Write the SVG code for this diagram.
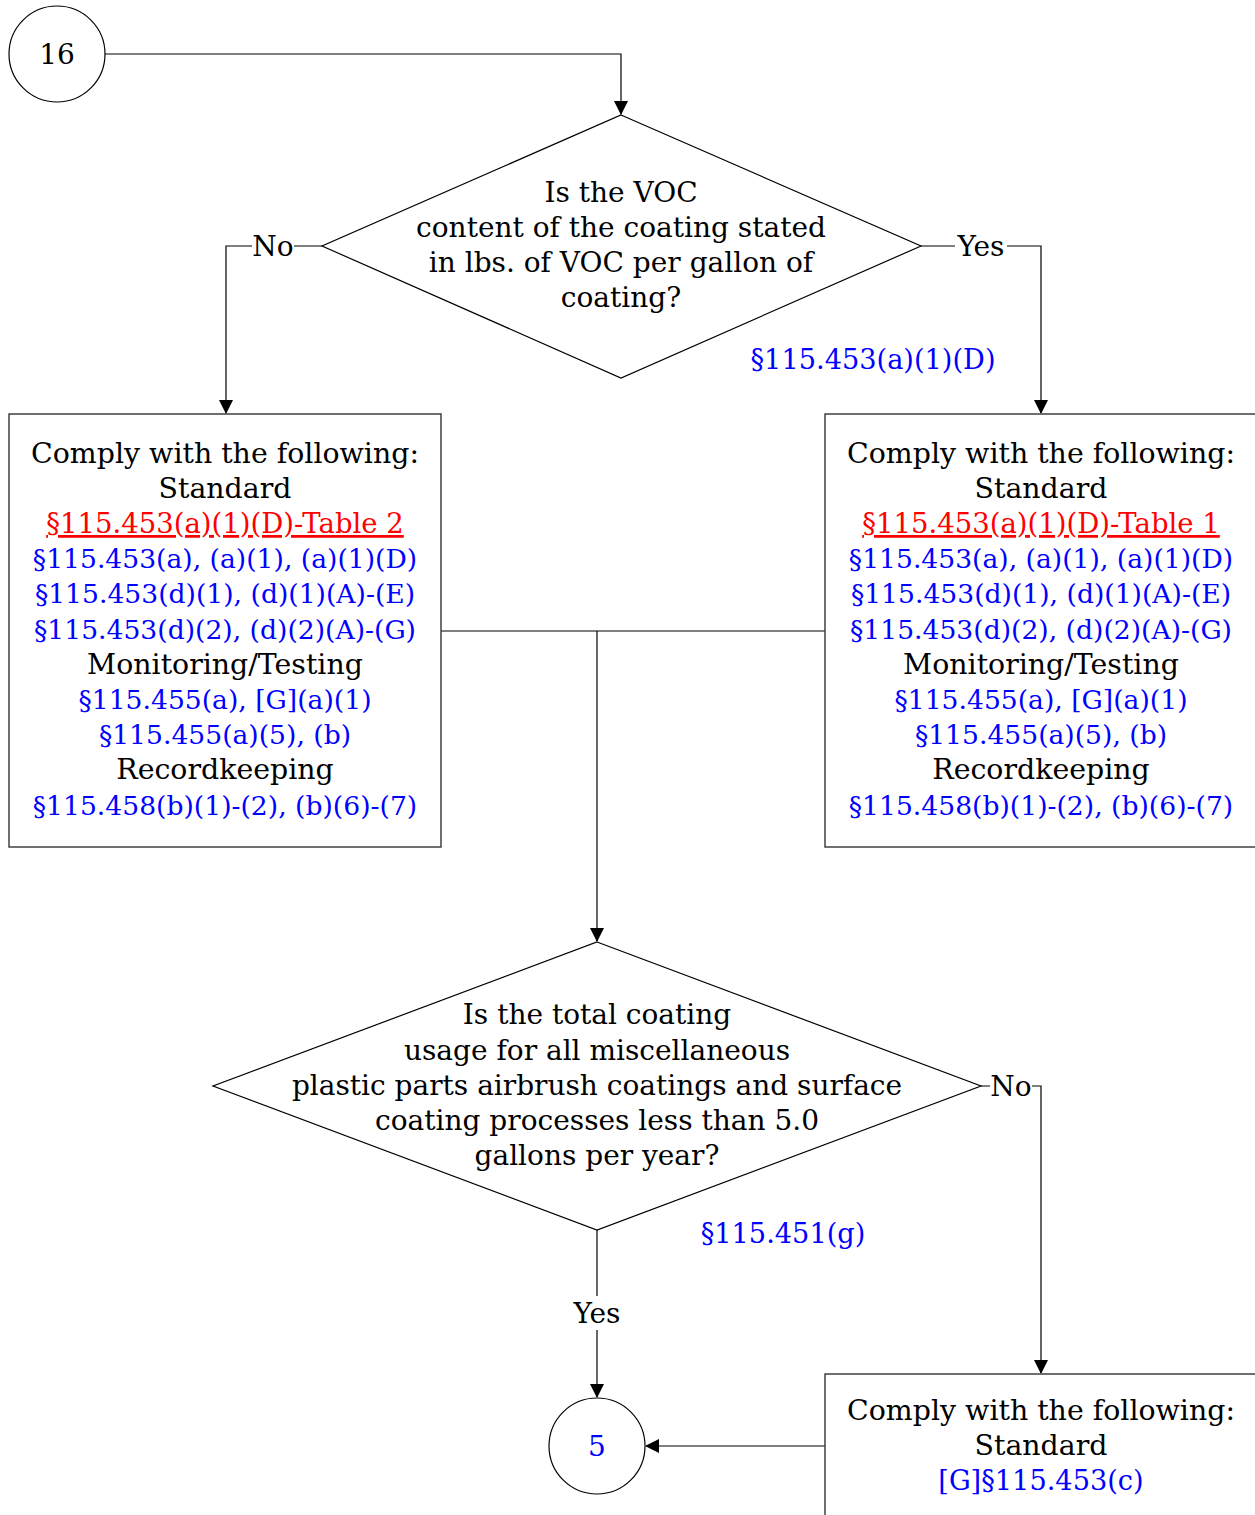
<svg xmlns="http://www.w3.org/2000/svg" width="1255" height="1515" viewBox="0 0 1255 1515">
<defs>
<marker id="arr" markerWidth="14" markerHeight="14" viewBox="0 0 14 14" refX="13" refY="7" orient="auto" markerUnits="userSpaceOnUse">
<path d="M0,0 L14,7 L0,14 z" fill="#000"/>
</marker>
<style>
text{font-family:"DejaVu Serif",serif;font-size:28px;text-anchor:middle;fill:#000}
.k{font-size:28.4px}
.b{fill:#0000ff}
.bb{fill:#0000ff;font-size:26.6px}
.r{fill:#ff0000;text-decoration:underline;font-size:27.5px}
.shape{fill:#fff;stroke:#000;stroke-width:1.2}
.box{fill:#fff;stroke:#404040;stroke-width:1.5}
.c{fill:none;stroke:#000;stroke-width:1.2}
.lbl{fill:#fff}
</style>
</defs>
<rect width="1255" height="1515" fill="#fff"/>
<g id="connectors">
<path class="c" d="M105,54 H621 V114" marker-end="url(#arr)"/>
<path class="c" d="M322,246 H226 V413" marker-end="url(#arr)"/>
<path class="c" d="M921,246 H1041 V413" marker-end="url(#arr)"/>
<path class="c" d="M441,631 H825"/>
<path class="c" d="M597,631 V941" marker-end="url(#arr)"/>
<path class="c" d="M981,1086 H1041 V1373" marker-end="url(#arr)"/>
<path class="c" d="M597,1230 V1397" marker-end="url(#arr)"/>
<path class="c" d="M825,1446 H646" stroke="#404040" stroke-width="1.5" marker-end="url(#arr)"/>
<rect class="lbl" x="252" y="230" width="42" height="32"/>
<text x="273" y="256">No</text>
<rect class="lbl" x="955" y="230" width="52" height="32"/>
<text x="981" y="256">Yes</text>
<rect class="lbl" x="990" y="1070" width="42" height="32"/>
<text x="1011" y="1096">No</text>
<rect class="lbl" x="570" y="1296" width="54" height="34"/>
<text x="597" y="1323">Yes</text>
</g>
<g id="start16">
<circle class="shape" cx="57" cy="54" r="48"/>
<text x="57" y="64">16</text>
</g>
<g id="decision1">
<polygon class="shape" points="621,115 921,246 621,378 322,246"/>
<text x="621" y="202">Is the VOC</text>
<text x="621" y="237">content of the coating stated</text>
<text x="621" y="272">in lbs. of VOC per gallon of</text>
<text x="621" y="307">coating?</text>
<text class="b" x="873" y="369" style="font-size:27.2px">§115.453(a)(1)(D)</text>
</g>
<g id="boxLeft">
<rect class="box" x="9" y="414" width="432" height="433"/>
<text class="k" x="225" y="463">Comply with the following:</text>
<text class="k" x="225" y="498">Standard</text>
<text class="r" x="225" y="533">§115.453(a)(1)(D)-Table 2</text>
<text class="bb" x="225" y="568">§115.453(a), (a)(1), (a)(1)(D)</text>
<text class="bb" x="225" y="603">§115.453(d)(1), (d)(1)(A)-(E)</text>
<text class="bb" x="225" y="639">§115.453(d)(2), (d)(2)(A)-(G)</text>
<text class="k" x="225" y="674">Monitoring/Testing</text>
<text class="bb" x="225" y="709">§115.455(a), [G](a)(1)</text>
<text class="bb" x="225" y="744">§115.455(a)(5), (b)</text>
<text class="k" x="225" y="779">Recordkeeping</text>
<text class="bb" x="225" y="815">§115.458(b)(1)-(2), (b)(6)-(7)</text>
</g>
<g id="boxRight">
<rect class="box" x="825" y="414" width="432" height="433"/>
<text class="k" x="1041" y="463">Comply with the following:</text>
<text class="k" x="1041" y="498">Standard</text>
<text class="r" x="1041" y="533">§115.453(a)(1)(D)-Table 1</text>
<text class="bb" x="1041" y="568">§115.453(a), (a)(1), (a)(1)(D)</text>
<text class="bb" x="1041" y="603">§115.453(d)(1), (d)(1)(A)-(E)</text>
<text class="bb" x="1041" y="639">§115.453(d)(2), (d)(2)(A)-(G)</text>
<text class="k" x="1041" y="674">Monitoring/Testing</text>
<text class="bb" x="1041" y="709">§115.455(a), [G](a)(1)</text>
<text class="bb" x="1041" y="744">§115.455(a)(5), (b)</text>
<text class="k" x="1041" y="779">Recordkeeping</text>
<text class="bb" x="1041" y="815">§115.458(b)(1)-(2), (b)(6)-(7)</text>
</g>
<g id="decision2">
<polygon class="shape" points="597,942 981,1086 597,1230 213,1086"/>
<text x="597" y="1024">Is the total coating</text>
<text x="597" y="1060">usage for all miscellaneous</text>
<text x="597" y="1095">plastic parts airbrush coatings and surface</text>
<text x="597" y="1130">coating processes less than 5.0</text>
<text x="597" y="1165">gallons per year?</text>
<text class="b" x="783" y="1243" style="font-size:27.2px">§115.451(g)</text>
</g>
<g id="end5">
<circle class="shape" cx="597" cy="1446" r="48"/>
<text class="b" x="597" y="1456">5</text>
</g>
<g id="boxBottom">
<rect class="box" x="825" y="1374" width="432" height="160"/>
<text class="k" x="1041" y="1420">Comply with the following:</text>
<text class="k" x="1041" y="1455">Standard</text>
<text class="b" x="1041" y="1490" style="font-size:27.2px">[G]§115.453(c)</text>
</g>
</svg>
